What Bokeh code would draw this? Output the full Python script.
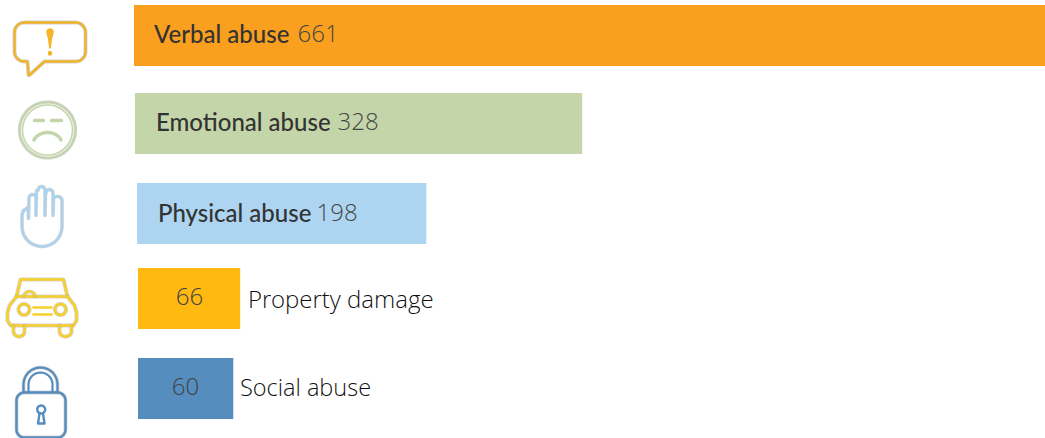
import numpy as np
from bokeh.embed import file_html
from bokeh.resources import INLINE
from bokeh.plotting import figure
from bokeh.models import Range1d
from bokeh.core.properties import value

# ---- data
categories = ["Verbal abuse", "Emotional abuse", "Physical abuse", "Property damage", "Social abuse"]
counts = [661, 328, 198, 66, 60]
# the source graphic is a hand-placed infographic: bars are not strictly proportional.
# drawn extents in count units
bar_start = [0, 0.7, 2.2, 2.9, 2.9]
bar_end = [661, 325, 212, 77, 72]
bar_colors = ["#FAA01E", "#C4D6A9", "#ADD5F1", "#FFB911", "#558DBF"]

W, H = 1045, 438
BAR_X0 = 133.5
PX_PER_COUNT = 911.5 / 661

p = figure(width=W, height=H, output_backend="svg", toolbar_location=None,
           x_range=Range1d(-BAR_X0 / PX_PER_COUNT, (W - BAR_X0) / PX_PER_COUNT),
           y_range=Range1d(H, 0), min_border=0, outline_line_color=None,
           x_axis_type=None, y_axis_type=None)
p.xgrid.visible = False
p.ygrid.visible = False
p.extra_x_ranges["px"] = Range1d(0, W)

# bars
row_y = [35, 123, 213, 298, 388]
p.hbar(y=row_y, left=bar_start, right=bar_end, height=61, color=bar_colors, line_color=None)

# texts
DARK = "#333333"
MID = "#454545"
def txt(x, y, s, font, size, color, align="left"):
    p.text(x=[x], y=[y], text=[s], text_font=value(font), text_font_size=size, text_color=color,
           text_align=align, text_baseline="alphabetic", x_range_name="px")

inside = [(155, 42, 298), (157, 130, 338), (159, 221, 317)]
for i, (x, y, xn) in enumerate(inside):
    txt(x - 1.5, y - 9, categories[i], "Lato Medium", "24px", DARK)
    txt(xn - 1, y - 9, str(counts[i]), "Open Sans Light", "24px", MID)
txt(189, 296, str(counts[3]), "Open Sans Light", "24px", MID, "center")
txt(185, 386, str(counts[4]), "Open Sans Light", "24px", MID, "center")
txt(247.5, 298, categories[3], "Open Sans Light", "24px", "#111111")
txt(239.5, 386, categories[4], "Open Sans Light", "23.5px", "#111111")

# ---- icons (decoration, in pixel space)
def stroke(xs, ys, color, w=2.2, halo=True):
    if halo:
        p.line(xs, ys, line_color="#8f8f8f", line_alpha=0.4, line_width=w + 1.4, x_range_name="px", line_join="round", line_cap="round")
    p.line(xs, ys, line_color=color, line_width=w, x_range_name="px", line_join="round", line_cap="round")

def arc(cx, cy, rx, ry, a0, a1, n=24):
    t = np.radians(np.linspace(a0, a1, n))
    return list(cx + rx * np.cos(t)), list(cy + ry * np.sin(t))

def path(*parts):
    xs, ys = [], []
    for a, b in parts:
        xs += list(a); ys += list(b)
    return xs, ys

# bubble
c = "#F0B429"
xs, ys = path(arc(24, 32, 10, 10, 180, 270), arc(75, 32, 10, 10, 270, 360), arc(75, 51, 10, 10, 0, 90),
              ([44, 29, 28, 27], [61, 74.5, 74.5, 61]), arc(24, 51, 10, 10, 90, 180), ([14], [32]))
stroke(xs, ys, c, 2.4)
bx, by = path(arc(49.5, 31.5, 3.8, 3.8, 180, 360), ([51.5, 50.4, 48.6, 47.5], [39, 48, 48, 39]))
p.patch(bx, by, color="#F5B52A", line_color=None, x_range_name="px")
stroke([49.5, 49.5], [52.5, 53], "#F5B52A", 4.4, False)

# face
c = "#C4D6A9"
stroke(*arc(47, 129.5, 28, 28, 0, 360, 70), c, 1.8)
stroke(*arc(47, 129.5, 25, 25, 0, 360, 70), c, 1.6, False)
stroke([34, 43], [120, 120], c, 3.4, False)
stroke([51, 61], [120, 120], c, 3.4, False)
stroke(*arc(47, 145, 15, 13, 205, 335), c, 3.4, False)

# hand
c = "#A8D3F2"
xs, ys = path(([21.5, 21.5, 23, 27.5, 28, 28.5], [227, 214, 210, 207, 218, 198]),
              arc(32, 198, 3.5, 4, 180, 360), ([35.5, 36, 37], [215, 190, 190]),
              arc(41, 190, 3.5, 4, 180, 360), ([44.5, 45], [215, 193]),
              arc(49, 193, 3.5, 4, 180, 360), ([52.5, 53], [215, 200]),
              arc(57, 200, 4.5, 4, 180, 360), ([61.5, 61.5], [200, 225]),
              arc(41.5, 226, 20, 20, 0, 180))
stroke(xs, ys, c, 2.2)

# car
c = "#F7D12A"
stroke([16, 20, 63, 67], [296, 279, 279, 296], c, 2.6)
stroke([16, 9, 7, 7, 10, 73, 76, 76, 74, 67, 16], [296, 305, 312, 320, 325, 325, 320, 312, 305, 296, 296], c, 2.6)
stroke(*arc(23.5, 309, 5.5, 5.5, 0, 360, 30), c, 2.6)
stroke(*arc(60, 309, 5.5, 5.5, 0, 360, 30), c, 2.6)
stroke([33, 51], [307, 307], c, 2.6, False)
stroke([33, 51], [314, 314], c, 2.6, False)
stroke(*path(([13, 13], [325, 331]), arc(18.5, 331, 5.5, 5, 180, 0), ([24, 24], [331, 325])), c, 2.6)
stroke(*path(([59, 59], [325, 331]), arc(65, 331, 6, 5, 180, 0), ([71, 71], [331, 325])), c, 2.6)
stroke(*arc(29, 296, 5.5, 5, 180, 360), c, 2.2)

# lock
c = "#558DBF"
xs, ys = path(arc(24, 400, 8, 8, 180, 270), arc(57, 400, 8, 8, 270, 360), arc(57, 429, 8, 8, 0, 90),
              arc(24, 429, 8, 8, 90, 180), ([16], [400]))
stroke(xs, ys, c, 2.4)
stroke(*path(([23, 23], [392, 384]), arc(40, 384, 17, 17, 180, 360), ([57, 57], [384, 392])), c, 2.2)
stroke(*path(([28, 28], [392, 384]), arc(40, 384, 12, 12, 180, 360), ([52, 52], [384, 392])), c, 2.2, False)
stroke(*arc(40.7, 409, 4, 4, 0, 360, 20), c, 2.4, False)
stroke([39, 37.5, 44, 42.5], [413, 423, 423, 413], c, 2.4, False)

open("out.html", "w").write(file_html(p, INLINE))
